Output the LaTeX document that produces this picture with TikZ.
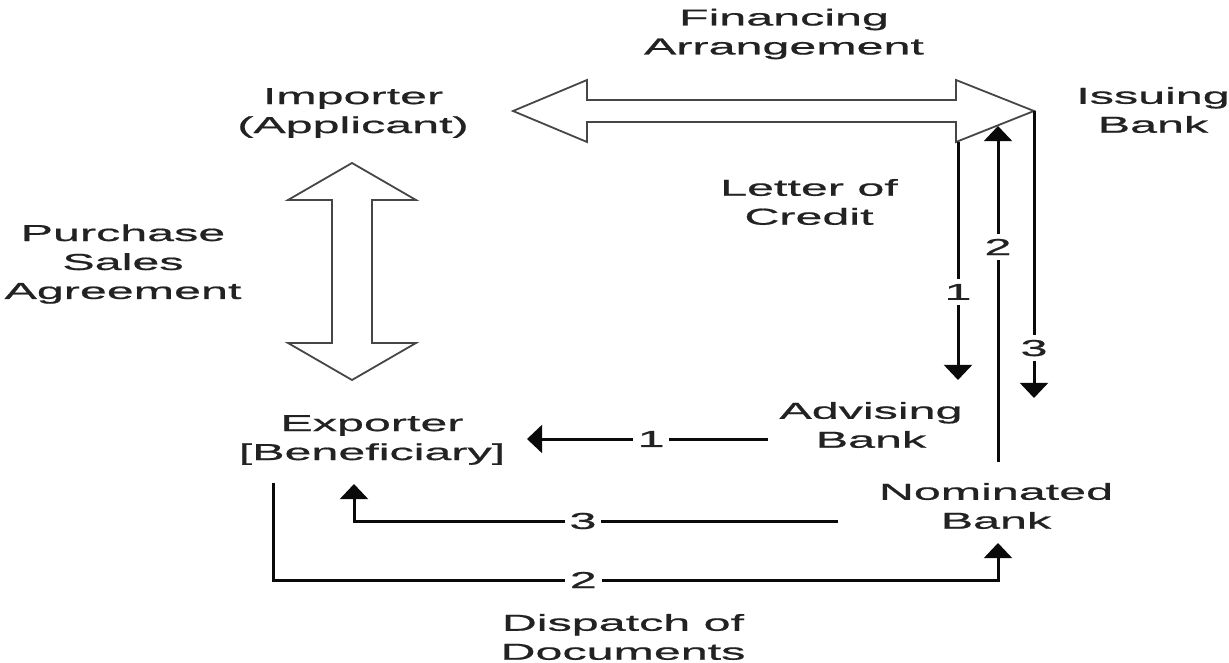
\documentclass[tikz,border=0pt]{standalone}
\usepackage{fontspec}
\setmainfont{Liberation Sans}[FakeStretch=2.1, FakeBold=0.8]
\usetikzlibrary{arrows.meta}
\definecolor{labelcolor}{RGB}{34, 34, 34}
\definecolor{outlinecolor}{RGB}{70, 70, 70}
\definecolor{flowcolor}{RGB}{10, 10, 10}
\tikzset{
partylabel/.style={
  align=center,
  inner sep=0pt,
  text=labelcolor,
  font=\fontsize{16.4}{20.6}\selectfont
},
steplabel/.style={
  fill=white,
  inner sep=1.2mm,
  text=labelcolor,
  font=\fontsize{16.4}{20.6}\selectfont
},
bigarrow/.style={
  draw=outlinecolor,
  fill=white,
  line width=0.45mm,
  line join=miter
},
flowarrow/.style={
  -{Triangle[length=3.8mm,width=7mm]},
  line width=0.75mm,
  draw=flowcolor
}
}

\begin{document}
\begin{tikzpicture}[x=0.25mm, y=-0.25mm]
  \useasboundingbox (0,0) rectangle (1229,663);

  % Parties and agreements
  \node[partylabel] (finance)   at (784,34)  {Financing\\Arrangement};
  \node[partylabel] (importer)  at (353,113) {Importer\\(Applicant)};
  \node[partylabel] (issuing)   at (1153,110) {Issuing\\Bank};
  \node[partylabel] (loc)       at (809,202) {Letter of\\Credit};
  \node[partylabel] (purchase)  at (123,264) {Purchase\\Sales\\Agreement};
  \node[partylabel] (exporter)  at (372,440) {Exporter\\{[Beneficiary]}};
  \node[partylabel] (advising)  at (871,425) {Advising\\Bank};
  \node[partylabel] (nominated) at (996,506) {Nominated\\Bank};
  \node[partylabel] (dispatch)  at (623,637) {Dispatch of\\Documents};

  % Hollow double arrows
  \draw[bigarrow] (513,111) -- (587,80) -- (587,100) -- (956,100) -- (956,80)
    -- (1034,111) -- (956,142) -- (956,122) -- (587,122) -- (587,142) -- cycle;
  \draw[bigarrow] (352,163) -- (416,200) -- (372,200) -- (372,343) -- (416,343)
    -- (352,380) -- (288,343) -- (332,343) -- (332,200) -- (288,200) -- cycle;

  % Flow end points
  \coordinate (issueA)   at (958,142);
  \coordinate (adviseIn) at (958,380);
  \coordinate (issueB)   at (998,126);
  \coordinate (nomUp)    at (998,462);
  \coordinate (issueC)   at (1034,111);
  \coordinate (issueOut) at (1034,398);
  \coordinate (adviseL)  at (768,439);
  \coordinate (expIn1)   at (527,439);
  \coordinate (nomL)     at (838,521);
  \coordinate (expIn3)   at (354,484);
  \coordinate (expDown)  at (273,483);
  \coordinate (nomIn)    at (998,543);

  % Numbered flows
  \draw[flowarrow] (issueA) -- node[steplabel, pos=0.63] {1} (adviseIn);
  \draw[flowarrow] (nomUp) -- node[steplabel, pos=0.64] {2} (issueB);
  \draw[flowarrow] (issueC) -- node[steplabel, pos=0.826] {3} (issueOut);
  \draw[flowarrow] (adviseL) -- node[steplabel, pos=0.485] {1} (expIn1);
  \draw[flowarrow] (nomL) -- node[steplabel, pos=0.527] {3} (nomL -| expIn3) -- (expIn3);
  \draw[flowarrow] (expDown) -- (expDown |- 0,580) -- node[steplabel, pos=0.428] {2}
    (nomIn |- 0,580) -- (nomIn);
\end{tikzpicture}
\end{document}
